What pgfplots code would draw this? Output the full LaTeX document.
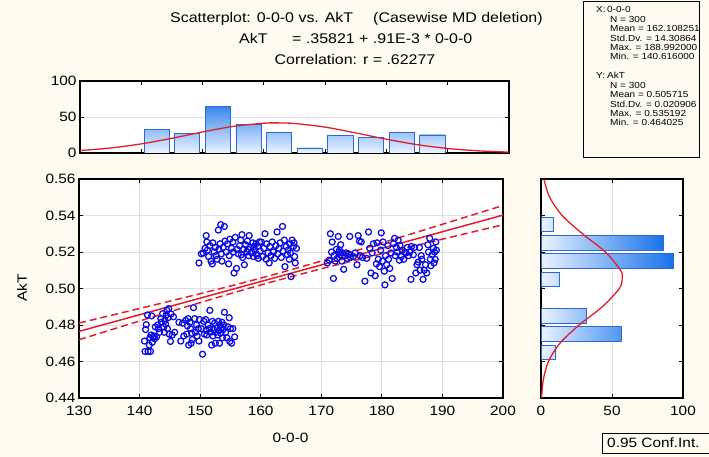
\documentclass[border=0pt]{standalone}
\usepackage{fontspec}
\setmainfont{Liberation Sans}[FakeStretch=1.14]
\usepackage{pgfplots}
\pgfplotsset{compat=1.18}
\definecolor{bgc}{RGB}{255,251,240}
\definecolor{gridc}{RGB}{222,222,234}
\definecolor{ptblue}{RGB}{10,10,225}
\definecolor{fitred}{RGB}{225,30,40}
\definecolor{barlight}{RGB}{234,243,255}
\definecolor{bardeep}{RGB}{25,115,235}
\definecolor{barline}{RGB}{45,105,210}
\newcommand{\tickfont}{\fontsize{13.5}{15}\selectfont}
\newcommand{\titfont}{\fontsize{14}{16}\selectfont}
\newcommand{\statfont}{\fontsize{8.8}{10}\selectfont}
\pgfplotsset{
  base/.style={scale only axis, anchor=south west,
    axis line style={line width=1.1pt},
    tick style={black, line width=0.8pt}, major tick length=4pt,
    ticklabel style={font=\tickfont},
    xticklabel style={yshift=-5pt},
    /pgf/number format/assume math mode=true,
    grid style={gridc, line width=0.8pt},
    axis background/.style={fill=white}},
  tb/.style={ybar, bar shift=0pt, bar width=4.1, draw=barline, line width=0.9pt, bottom color=barlight, top color=bardeep!#1!barlight},
  rb/.style={xbar, bar shift=0pt, bar width=0.008, draw=barline, line width=0.9pt, left color=barlight, right color=bardeep!#1!barlight}
}
\begin{document}
\begin{tikzpicture}
\useasboundingbox (0pt,0pt) rectangle (709pt,457pt);
\fill[bgc] (0pt,0pt) rectangle (709pt,457pt);

% titles
\begin{scope}[every node/.style={inner sep=0, font=\titfont}]
\node[anchor=base west] at (170pt,434pt) {Scatterplot: 0-0-0 vs. AkT};
\node[anchor=base west] at (373pt,434pt) {(Casewise MD deletion)};
\node[anchor=base west] at (239pt,413pt) {AkT};
\node[anchor=base west] at (292pt,413pt) {= .35821 + .91E-3 * 0-0-0};
\node[anchor=base] at (355pt,392pt) {Correlation: r = .62277};
\end{scope}

% stats box
\draw[line width=0.9pt] (583pt,300pt) rectangle (699pt,456pt);
\begin{scope}[every node/.style={anchor=base west, inner sep=0, font=\statfont}]
\node at (596pt,444pt) {X:}; \node at (607pt,444pt) {0-0-0};
\node at (610pt,434.6pt) {N = 300};
\node at (610pt,425.2pt) {Mean = 162.108251};
\node at (610pt,415.8pt) {Std.Dv. = 14.30864};
\node at (610pt,406.4pt) {Max. = 188.992000};
\node at (610pt,397pt) {Min. = 140.616000};
\node at (596pt,378pt) {Y:}; \node at (607pt,378pt) {AkT};
\node at (610pt,368.6pt) {N = 300};
\node at (610pt,359.2pt) {Mean = 0.505715};
\node at (610pt,349.8pt) {Std.Dv. = 0.020906};
\node at (610pt,340.4pt) {Max. = 0.535192};
\node at (610pt,331pt) {Min. = 0.464025};
\end{scope}

% conf int box
\draw[line width=0.9pt] (602pt,4pt) rectangle (710pt,24pt);
\node[anchor=west, font=\tickfont, inner sep=0] at (607pt,14pt) {0.95 Conf.Int.};

% axis labels
\node[font=\tickfont] at (290.5pt,19pt) {0-0-0};
\node[font=\tickfont, rotate=90] at (22pt,169pt) {AkT};

% top histogram
\begin{axis}[base, at={(80pt,304pt)}, width=429pt, height=72pt,
  xmin=130, xmax=200, ymin=0, ymax=100,
  xtick={130,140,150,160,170,180,190,200}, xticklabels={},
  ytick={0,50,100}, ymajorgrids]
\addplot[tb=43] coordinates {(142.5,33)};
\addplot[tb=35] coordinates {(147.5,27)};
\addplot[tb=85] coordinates {(152.5,65)};
\addplot[tb=51] coordinates {(157.5,39)};
\addplot[tb=38] coordinates {(162.5,29)};
\addplot[tb=9] coordinates {(167.5,7)};
\addplot[tb=31] coordinates {(172.5,24)};
\addplot[tb=29] coordinates {(177.5,22)};
\addplot[tb=38] coordinates {(182.5,29)};
\addplot[tb=33] coordinates {(187.5,25)};
\addplot[smooth, fitred, line width=1.3pt] coordinates {
(130,3.37)(135,6.95)(140,12.68)(145,20.46)(150,29.23)(155,36.96)(160,41.37)(162.1,41.82)
(165,40.98)(170,35.92)(175,27.87)(180,19.14)(185,11.63)(190,6.26)(195,2.98)(200,1.25)};
\end{axis}

% right histogram
\begin{axis}[base, at={(541pt,59pt)}, width=142pt, height=219pt,
  xmin=0, xmax=100, ymin=0.44, ymax=0.56,
  xtick={0,50,100}, xmajorgrids,
  ytick={0.44,0.46,0.48,0.50,0.52,0.54,0.56}, yticklabels={}]
\addplot[rb=12] coordinates {(9,0.535)};
\addplot[rb=100] coordinates {(86,0.525)};
\addplot[rb=100] coordinates {(93,0.515)};
\addplot[rb=17] coordinates {(13,0.505)};
\addplot[rb=42] coordinates {(32,0.485)};
\addplot[rb=74] coordinates {(57,0.475)};
\addplot[rb=13] coordinates {(10,0.465)};
\addplot[smooth, fitred, line width=1.3pt] coordinates {
(0.41,0.44)(1.64,0.45)(5.24,0.46)(13.30,0.47)(26.87,0.48)(43.16,0.49)(55.15,0.50)(57.25,0.5057)
(56.06,0.51)(45.33,0.52)(29.16,0.53)(14.92,0.54)(6.07,0.55)(1.97,0.56)};
\end{axis}

% main scatter
\begin{axis}[base, at={(79pt,59pt)}, width=424pt, height=219pt,
  xmin=130, xmax=200, ymin=0.44, ymax=0.56,
  xtick={130,140,150,160,170,180,190,200},
  ytick={0.44,0.46,0.48,0.50,0.52,0.54,0.56},
  yticklabel style={/pgf/number format/.cd, fixed, fixed zerofill, precision=2},
  grid=major]
\addplot[only marks, mark=o, ptblue, mark size=3pt, mark options={line width=1.25pt}] table {
x y
140.8 0.4712
140.9 0.4655
141.0 0.4775
141.1 0.4802
141.3 0.4855
141.4 0.4655
141.6 0.4690
141.7 0.4730
141.8 0.4655
141.9 0.4745
142.0 0.4850
142.1 0.4705
142.2 0.4735
142.4 0.4740
142.5 0.4725
142.6 0.4790
142.8 0.4735
143.0 0.4800
143.1 0.4780
143.3 0.4760
143.5 0.4835
143.6 0.4815
143.8 0.4862
144.0 0.4790
144.1 0.4760
144.2 0.4825
144.4 0.4855
144.5 0.4880
144.6 0.4780
144.7 0.4840
144.8 0.4890
144.9 0.4750
144.3 0.4805
145.1 0.4710
145.2 0.4860
145.4 0.4745
145.6 0.4845
145.8 0.4760
146.5 0.4815
146.8 0.4712
147.1 0.4810
147.3 0.4740
147.6 0.4825
147.8 0.4750
148.0 0.4835
148.1 0.4690
148.3 0.4815
148.4 0.4780
148.5 0.4700
148.7 0.4720
148.9 0.4895
149.1 0.4835
149.2 0.4760
149.4 0.4800
149.5 0.4740
149.7 0.4780
149.8 0.4712
149.9 0.4830
148.6 0.4755
147.9 0.4795
150.2 0.4780
150.4 0.4640
150.6 0.4820
150.7 0.4750
150.9 0.4830
151.0 0.4770
151.1 0.4745
151.3 0.4800
151.5 0.4780
151.6 0.4880
151.7 0.4760
151.9 0.4690
152.0 0.4820
152.1 0.4740
152.2 0.4775
152.4 0.4810
152.5 0.4700
152.6 0.4760
152.8 0.4785
152.9 0.4745
153.0 0.4820
153.1 0.4770
153.2 0.4700
153.3 0.4800
153.4 0.4755
153.5 0.4785
153.6 0.4815
153.7 0.4730
153.8 0.4775
153.9 0.4800
154.0 0.4870
154.2 0.4760
154.4 0.4730
154.6 0.4790
154.8 0.4840
155.0 0.4780
155.2 0.4700
155.4 0.4780
155.7 0.4735
154.9 0.4710
149.8 0.5140
150.2 0.5190
150.5 0.5195
150.8 0.5220
151.0 0.5290
151.1 0.5255
151.2 0.5210
151.4 0.5175
151.6 0.5235
151.8 0.5150
152.0 0.5135
152.1 0.5250
152.3 0.5200
152.5 0.5225
152.6 0.5180
152.8 0.5160
153.0 0.5320
153.1 0.5215
153.3 0.5245
153.4 0.5350
153.5 0.5190
153.6 0.5150
153.8 0.5225
154.0 0.5340
154.1 0.5260
154.3 0.5200
154.5 0.5245
154.7 0.5135
154.8 0.5180
154.9 0.5270
155.2 0.5220
155.4 0.5255
155.6 0.5085
155.8 0.5280
156.0 0.5110
156.1 0.5215
156.3 0.5190
156.5 0.5235
156.7 0.5265
156.9 0.5295
157.0 0.5170
157.2 0.5215
157.3 0.5130
157.5 0.5240
157.7 0.5200
157.8 0.5260
158.0 0.5180
158.1 0.5290
158.3 0.5225
158.5 0.5195
158.7 0.5250
158.8 0.5175
159.0 0.5210
159.2 0.5245
159.3 0.5190
159.5 0.5230
159.6 0.5165
159.8 0.5255
159.9 0.5205
157.9 0.5215
156.8 0.5185
155.5 0.5200
158.9 0.5230
159.4 0.5180
160.1 0.5255
160.3 0.5175
160.5 0.5220
160.7 0.5300
160.9 0.5160
161.0 0.5245
161.2 0.5195
161.4 0.5140
161.5 0.5230
161.7 0.5180
161.9 0.5255
162.1 0.5200
162.3 0.5165
162.5 0.5235
162.7 0.5310
162.8 0.5190
163.0 0.5220
163.2 0.5250
163.4 0.5170
163.6 0.5340
163.7 0.5205
163.9 0.5265
164.0 0.5120
164.2 0.5230
164.4 0.5185
164.5 0.5210
164.7 0.5160
164.8 0.5245
164.9 0.5195
165.0 0.5065
165.2 0.5265
165.4 0.5230
165.6 0.5175
165.7 0.5140
165.9 0.5220
165.5 0.5250
171.0 0.5140
171.3 0.5155
171.5 0.5300
171.7 0.5200
171.8 0.5255
172.0 0.5055
172.1 0.5180
172.3 0.5150
172.5 0.5215
172.6 0.5165
172.8 0.5285
172.9 0.5200
173.1 0.5185
173.2 0.5240
173.4 0.5150
173.5 0.5195
173.7 0.5105
173.9 0.5180
174.1 0.5195
174.3 0.5165
174.5 0.5190
174.7 0.5285
174.8 0.5170
173.0 0.5210
175.3 0.5175
175.6 0.5195
175.9 0.5130
176.1 0.5290
176.3 0.5260
176.4 0.5180
176.6 0.5255
176.8 0.5170
177.2 0.5040
177.5 0.5165
177.8 0.5310
178.0 0.5220
178.2 0.5085
178.4 0.5195
178.6 0.5245
178.9 0.5070
179.1 0.5135
179.2 0.5250
179.4 0.5160
179.6 0.5120
179.8 0.5210
179.9 0.5305
180.1 0.5150
180.2 0.5255
180.4 0.5095
180.5 0.5020
180.6 0.5180
180.8 0.5130
181.0 0.5235
181.1 0.5160
181.3 0.5110
181.5 0.5195
181.7 0.5055
181.9 0.5245
182.1 0.5275
182.2 0.5180
182.4 0.5225
182.5 0.5200
182.7 0.5265
182.9 0.5155
183.0 0.5235
183.2 0.5175
183.4 0.5210
183.6 0.5160
183.8 0.5200
184.0 0.5195
184.2 0.5225
184.4 0.5180
184.6 0.5200
184.8 0.5050
184.9 0.5230
185.2 0.5185
185.4 0.5225
185.6 0.5085
185.8 0.5130
186.0 0.5145
186.2 0.5225
186.3 0.5100
186.5 0.5180
186.6 0.5160
186.8 0.5050
187.0 0.5100
187.2 0.5130
187.4 0.5085
187.6 0.5240
187.7 0.5200
187.9 0.5275
188.0 0.5160
188.1 0.5125
188.3 0.5185
188.5 0.5220
188.6 0.5140
188.7 0.5200
188.8 0.5160
188.9 0.5255
189.0 0.5210
};
\addplot[fitred, line width=1.5pt] coordinates {(130,0.47651)(200,0.54021)};
\addplot[fitred, line width=1.5pt, dashed, dash pattern=on 7pt off 4pt, smooth] coordinates {
(130,0.48108)(140,0.48904)(150,0.49715)(160,0.50569)(170,0.51503)(180,0.52499)(190,0.53519)(200,0.54548)};
\addplot[fitred, line width=1.5pt, dashed, dash pattern=on 7pt off 4pt, smooth] coordinates {
(130,0.47194)(140,0.48219)(150,0.49227)(160,0.50193)(170,0.51079)(180,0.51903)(190,0.52703)(200,0.53494)};
\end{axis}
\end{tikzpicture}
\end{document}
